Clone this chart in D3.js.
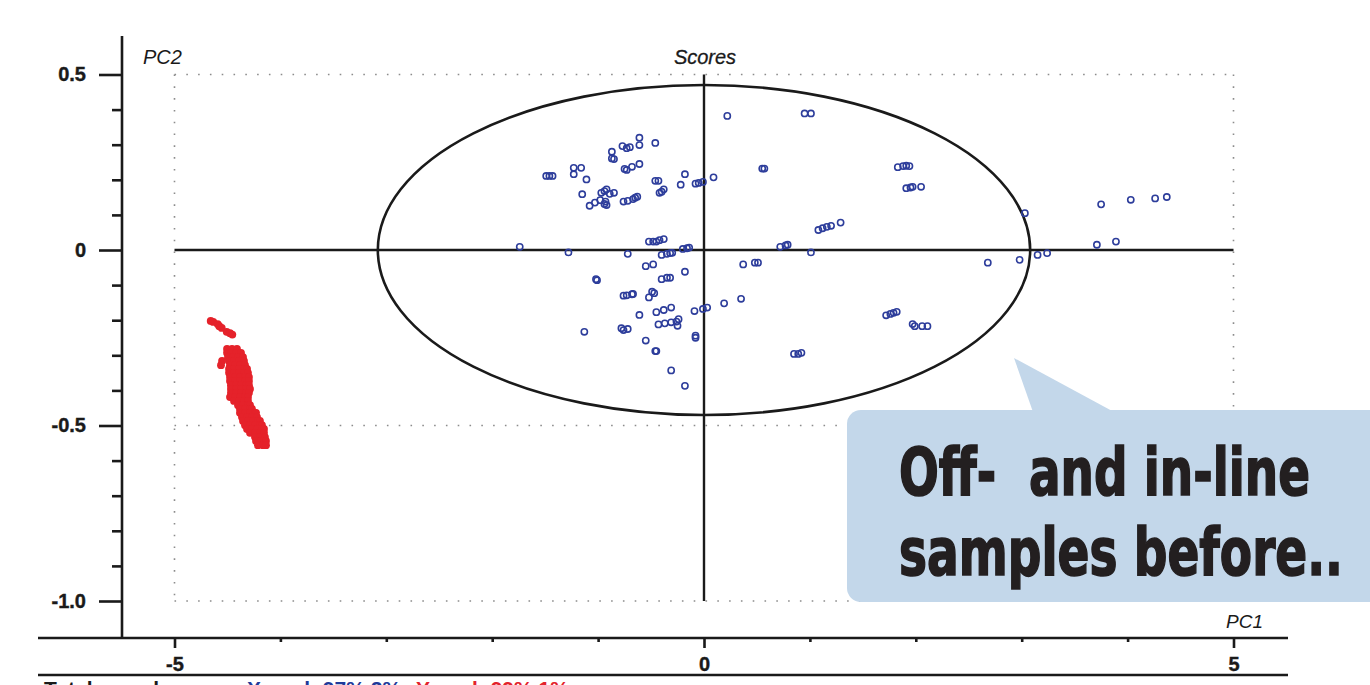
<!DOCTYPE html>
<html>
<head>
<meta charset="utf-8">
<script src="https://cdn.jsdelivr.net/npm/d3@7/dist/d3.min.js"></script>
<style>
  html, body { margin: 0; padding: 0; background: #fff; overflow: hidden; }
  svg { display: block; font-family: "Liberation Sans", Arial, sans-serif; }
</style>
</head>
<body>
<div id="chart"></div>
<script>
// --- data ---
const xMajorTicks = [-5, 0, 5];
const xMinorTicks = [-4, -3, -2, -1, 1, 2, 3, 4];
const yMajorTicks = [-1.0, -0.5, 0, 0.5];
const yMinorTicks = [-0.9, -0.8, -0.7, -0.6, -0.4, -0.3, -0.2, -0.1, 0.1, 0.2, 0.3, 0.4];
const ellipseRadii = [3.08, 0.47];   // Hotelling limit, PC1 / PC2

// off-line samples [PC1, PC2]
const offlineScores = [
  [-1.74,0.009],
  [-1.49,0.211],[-1.46,0.211],[-1.43,0.211],
  [-1.23,0.234],[-1.16,0.234],[-1.23,0.216],[-1.11,0.201],[-1.15,0.159],
  [-1.08,0.126],[-1.03,0.135],[-0.98,0.142],
  [-0.97,0.163],[-0.94,0.168],[-0.92,0.173],[-0.89,0.160],[-0.85,0.163],
  [-0.93,0.138],[-0.92,0.128],[-0.94,0.131],
  [-0.87,0.280],[-0.87,0.261],[-0.85,0.259],
  [-0.77,0.296],[-0.73,0.290],[-0.70,0.293],
  [-0.61,0.320],[-0.61,0.299],
  [-0.75,0.231],[-0.73,0.228],[-0.68,0.237],[-0.61,0.245],
  [-0.76,0.138],[-0.72,0.140],[-0.67,0.145],[-0.65,0.149],[-0.63,0.152],
  [-0.46,0.305],[-0.46,0.197],[-0.43,0.197],
  [-0.42,0.163],[-0.40,0.166],[-0.38,0.173],
  [-0.22,0.186],[-0.18,0.216],
  [-0.08,0.189],[-0.05,0.191],[-0.01,0.194],[0.09,0.207],
  [-0.52,0.024],[-0.48,0.024],[-0.45,0.024],[-0.42,0.028],[-0.38,0.031],
  [-0.20,0.003],[-0.16,0.005],[-0.14,0.007],
  [-1.28,-0.007],[-0.72,-0.011],
  [-0.40,-0.014],[-0.35,-0.011],[-0.32,-0.009],[-0.30,-0.008],
  [-0.55,-0.046],[-0.48,-0.041],[-0.18,-0.062],
  [-1.02,-0.083],[-1.01,-0.086],
  [-0.40,-0.083],[-0.35,-0.079],[-0.32,-0.079],
  [-0.76,-0.130],[-0.73,-0.129],[-0.68,-0.126],[-0.67,-0.125],
  [-0.52,-0.135],[-0.49,-0.119],[-0.47,-0.123],
  [-0.61,-0.185],
  [-0.45,-0.177],[-0.38,-0.171],[-0.31,-0.164],
  [-0.09,-0.174],[-0.01,-0.168],[0.03,-0.164],
  [-0.43,-0.212],[-0.37,-0.209],[-0.31,-0.206],[-0.26,-0.204],[-0.24,-0.197],[-0.25,-0.216],
  [-1.13,-0.233],
  [-0.78,-0.223],[-0.76,-0.228],[-0.72,-0.225],
  [-0.08,-0.244],[-0.08,-0.250],
  [-0.55,-0.258],[-0.46,-0.288],[-0.45,-0.288],
  [-0.31,-0.343],[-0.18,-0.387],
  [0.22,0.382],[0.95,0.389],[1.01,0.389],
  [0.55,0.232],[0.57,0.232],
  [1.83,0.236],[1.88,0.239],[1.91,0.240],[1.94,0.239],
  [1.91,0.176],[1.95,0.178],[1.97,0.180],[2.05,0.180],
  [1.08,0.057],[1.12,0.062],[1.16,0.066],[1.20,0.069],[1.29,0.078],
  [0.72,0.009],[0.77,0.013],[0.79,0.015],[1.01,-0.007],
  [0.37,-0.041],[0.48,-0.036],[0.51,-0.036],
  [0.19,-0.152],[0.35,-0.139],
  [0.85,-0.296],[0.89,-0.296],[0.92,-0.293],
  [1.72,-0.186],[1.76,-0.182],[1.79,-0.179],[1.82,-0.176],
  [1.97,-0.211],[1.99,-0.217],[2.06,-0.217],[2.11,-0.217],
  [2.68,-0.036],[2.98,-0.028],[3.03,0.105],
  [3.15,-0.014],[3.24,-0.009],
  [3.71,0.015],[3.89,0.024],
  [3.75,0.130],[4.03,0.143],[4.26,0.147],[4.37,0.151]
];

// in-line samples [PC1, PC2]
const inlineScores = [
  [-4.658,-0.202],[-4.634,-0.205],[-4.592,-0.211],[-4.577,-0.217],[-4.554,-0.222],
  [-4.507,-0.233],[-4.476,-0.237],[-4.454,-0.241],
  [-4.504,-0.282],[-4.457,-0.282],[-4.410,-0.282],
  [-4.504,-0.293],[-4.466,-0.293],[-4.419,-0.293],[-4.372,-0.293],
  [-4.495,-0.305],[-4.448,-0.305],[-4.400,-0.305],[-4.353,-0.305],
  [-4.551,-0.316],[-4.485,-0.316],[-4.438,-0.316],[-4.391,-0.316],[-4.344,-0.316],
  [-4.561,-0.328],[-4.476,-0.328],[-4.429,-0.328],[-4.382,-0.328],[-4.334,-0.328],
  [-4.485,-0.339],[-4.438,-0.339],[-4.391,-0.339],[-4.344,-0.339],[-4.315,-0.339],
  [-4.485,-0.350],[-4.438,-0.350],[-4.391,-0.350],[-4.344,-0.350],[-4.306,-0.350],
  [-4.476,-0.362],[-4.429,-0.362],[-4.382,-0.362],[-4.334,-0.362],[-4.297,-0.362],
  [-4.476,-0.373],[-4.429,-0.373],[-4.382,-0.373],[-4.334,-0.373],[-4.297,-0.373],
  [-4.467,-0.385],[-4.419,-0.385],[-4.372,-0.385],[-4.325,-0.385],[-4.297,-0.385],
  [-4.467,-0.396],[-4.419,-0.396],[-4.372,-0.396],[-4.325,-0.396],[-4.287,-0.396],
  [-4.467,-0.407],[-4.419,-0.407],[-4.372,-0.407],[-4.325,-0.407],[-4.297,-0.407],
  [-4.476,-0.419],[-4.429,-0.419],[-4.382,-0.419],[-4.334,-0.419],[-4.306,-0.419],
  [-4.438,-0.430],[-4.391,-0.430],[-4.344,-0.430],[-4.306,-0.430],
  [-4.400,-0.442],[-4.353,-0.442],[-4.306,-0.442],[-4.287,-0.442],
  [-4.382,-0.453],[-4.334,-0.453],[-4.287,-0.453],[-4.268,-0.453],
  [-4.382,-0.464],[-4.334,-0.464],[-4.287,-0.464],[-4.240,-0.464],[-4.230,-0.464],
  [-4.363,-0.476],[-4.315,-0.476],[-4.268,-0.476],[-4.221,-0.476],
  [-4.353,-0.487],[-4.306,-0.487],[-4.259,-0.487],[-4.212,-0.487],[-4.193,-0.487],
  [-4.334,-0.499],[-4.287,-0.499],[-4.240,-0.499],[-4.193,-0.499],[-4.174,-0.499],
  [-4.315,-0.510],[-4.268,-0.510],[-4.221,-0.510],[-4.174,-0.510],[-4.155,-0.510],
  [-4.287,-0.521],[-4.240,-0.521],[-4.193,-0.521],[-4.155,-0.521],
  [-4.240,-0.533],[-4.193,-0.533],[-4.146,-0.533],
  [-4.230,-0.544],[-4.183,-0.544],[-4.136,-0.544],
  [-4.212,-0.556],[-4.164,-0.556],[-4.136,-0.556]
];

const calloutLines = ["Off-  and in-line", "samples before.."];
const footerParts = ["Total samples,", "X-expl: 97%,2%", "Y-expl: 99%,1%"];

const width = 1370, height = 685;
const ink = "#1a1a1a";

const x = d3.scaleLinear().domain([-5, 5]).range([174.5, 1233.5]);
const y = d3.scaleLinear().domain([-1, 0.5]).range([601, 74.5]);

const svg = d3.select("#chart").append("svg")
    .attr("width", width)
    .attr("height", height);

function drawGrid(svg){
    const g = svg.append("g").attr("class", "grid")
        .attr("stroke", "#8c8c8c")
        .attr("stroke-width", 1.6)
        .attr("stroke-dasharray", "1.6,10.2");
    [-5, 5].forEach(v => {
        g.append("line")
            .attr("x1", x(v)).attr("x2", x(v))
            .attr("y1", y(0.5)).attr("y2", y(-1));
    });
    [0.5, -0.5, -1.0].forEach(v => {
        g.append("line")
            .attr("x1", x(-5)).attr("x2", x(5))
            .attr("y1", y(v)).attr("y2", y(v));
    });
    // solid cross through origin
    svg.append("line")
        .attr("x1", x(-5)).attr("x2", x(5))
        .attr("y1", y(0)).attr("y2", y(0))
        .attr("stroke", ink).attr("stroke-width", 2.4);
    svg.append("line")
        .attr("x1", x(0)).attr("x2", x(0))
        .attr("y1", y(0.5)).attr("y2", y(-1))
        .attr("stroke", ink).attr("stroke-width", 2.4);
}

function drawAxes(svg){
    const axisX = 122, axisY = 638;

    const yMajor = svg.append("g")
        .attr("transform", `translate(${axisX},0)`)
        .call(d3.axisLeft(y).tickValues(yMajorTicks).tickSize(23).tickPadding(13)
            .tickFormat(d => d === 0 ? "0" : d.toFixed(1)));
    const yMinor = svg.append("g")
        .attr("transform", `translate(${axisX},0)`)
        .call(d3.axisLeft(y).tickValues(yMinorTicks).tickSize(10).tickFormat(""));

    const xMajor = svg.append("g")
        .attr("transform", `translate(0,${axisY})`)
        .call(d3.axisBottom(x).tickValues(xMajorTicks).tickSize(10).tickPadding(9)
            .tickFormat(d => String(d)));
    const xMinor = svg.append("g")
        .attr("transform", `translate(0,${axisY})`)
        .call(d3.axisBottom(x).tickValues(xMinorTicks).tickSize(4).tickFormat(""));

    [yMajor, yMinor, xMajor, xMinor].forEach(g => {
        g.select(".domain").remove();
        g.selectAll(".tick line").attr("stroke", ink).attr("stroke-width", 2.6);
        g.selectAll(".tick text")
            .attr("fill", ink)
            .attr("stroke", ink)
            .attr("stroke-width", 0.4)
            .style("font-size", "20px")
            .style("font-weight", "bold");
    });

    svg.append("line")
        .attr("x1", axisX).attr("x2", axisX)
        .attr("y1", 36).attr("y2", axisY)
        .attr("stroke", ink).attr("stroke-width", 2.6);
    svg.append("line")
        .attr("x1", 38).attr("x2", 1288)
        .attr("y1", axisY).attr("y2", axisY)
        .attr("stroke", ink).attr("stroke-width", 2.6);
    svg.append("line")
        .attr("x1", 38).attr("x2", 1288)
        .attr("y1", 675).attr("y2", 675)
        .attr("stroke", ink).attr("stroke-width", 2.6);

    svg.append("text").text("PC2")
        .attr("x", 143).attr("y", 64)
        .style("font-style", "italic").style("font-size", "20px").attr("fill", ink);
    svg.append("text").text("PC1")
        .attr("x", 1226).attr("y", 628)
        .style("font-style", "italic").style("font-size", "19px").attr("fill", ink);
    svg.append("text").text("Scores")
        .attr("x", 705).attr("y", 64).attr("text-anchor", "middle")
        .attr("stroke", ink).attr("stroke-width", 0.3)
        .style("font-style", "italic").style("font-size", "20px").attr("fill", ink);

    // footer line, cut by the picture edge as in the source
    const footX = [44, 247, 416];
    const footColor = [ink, "#1f3a9a", "#e3222b"];
    footerParts.forEach((t, i) => {
        svg.append("text").text(t)
            .attr("x", footX[i]).attr("y", 696)
            .attr("fill", footColor[i])
            .style("font-size", "21px")
            .style("font-weight", "bold");
    });
}

function drawScores(svg){
    svg.append("ellipse")
        .attr("cx", x(0)).attr("cy", y(0))
        .attr("rx", x(ellipseRadii[0]) - x(0))
        .attr("ry", y(0) - y(ellipseRadii[1]))
        .attr("fill", "none")
        .attr("stroke", ink)
        .attr("stroke-width", 2.6);

    svg.append("g").selectAll("circle")
        .data(inlineScores)
        .join("circle")
        .attr("cx", d => x(d[0]))
        .attr("cy", d => y(d[1]))
        .attr("r", 3.9)
        .attr("fill", "#e5222a");

    svg.append("g").selectAll("circle")
        .data(offlineScores)
        .join("circle")
        .attr("cx", d => x(d[0]))
        .attr("cy", d => y(d[1]))
        .attr("r", 3.1)
        .attr("fill", "none")
        .attr("stroke", "#2d3d9b")
        .attr("stroke-width", 1.6);
}

function drawCallout(svg){
    const fill = "#c3d7ea";
    const g = svg.append("g");
    g.append("path")
        .attr("d", "M1014,358 L1033,412 L1114,412 Z")
        .attr("fill", fill);
    g.append("rect")
        .attr("x", 847).attr("y", 410)
        .attr("width", 540).attr("height", 192)
        .attr("rx", 14)
        .attr("fill", fill);
    const widths = [411, 444];
    calloutLines.forEach((line, i) => {
        g.append("text")
            .attr("x", 899).attr("y", 495 + i * 80)
            .attr("textLength", widths[i])
            .attr("lengthAdjust", "spacingAndGlyphs")
            .attr("fill", "#231f20")
            .attr("stroke", "#231f20")
            .attr("stroke-width", 1.6)
            .style("font-family", "'Liberation Sans Narrow', 'DejaVu Sans Condensed', 'Arial Narrow', sans-serif")
            .style("font-stretch", "condensed")
            .style("font-weight", "bold")
            .style("font-size", "66px")
            .style("white-space", "pre")
            .text(line);
    });
}

drawGrid(svg);
drawScores(svg);
drawAxes(svg);
drawCallout(svg);
</script>
</body>
</html>
